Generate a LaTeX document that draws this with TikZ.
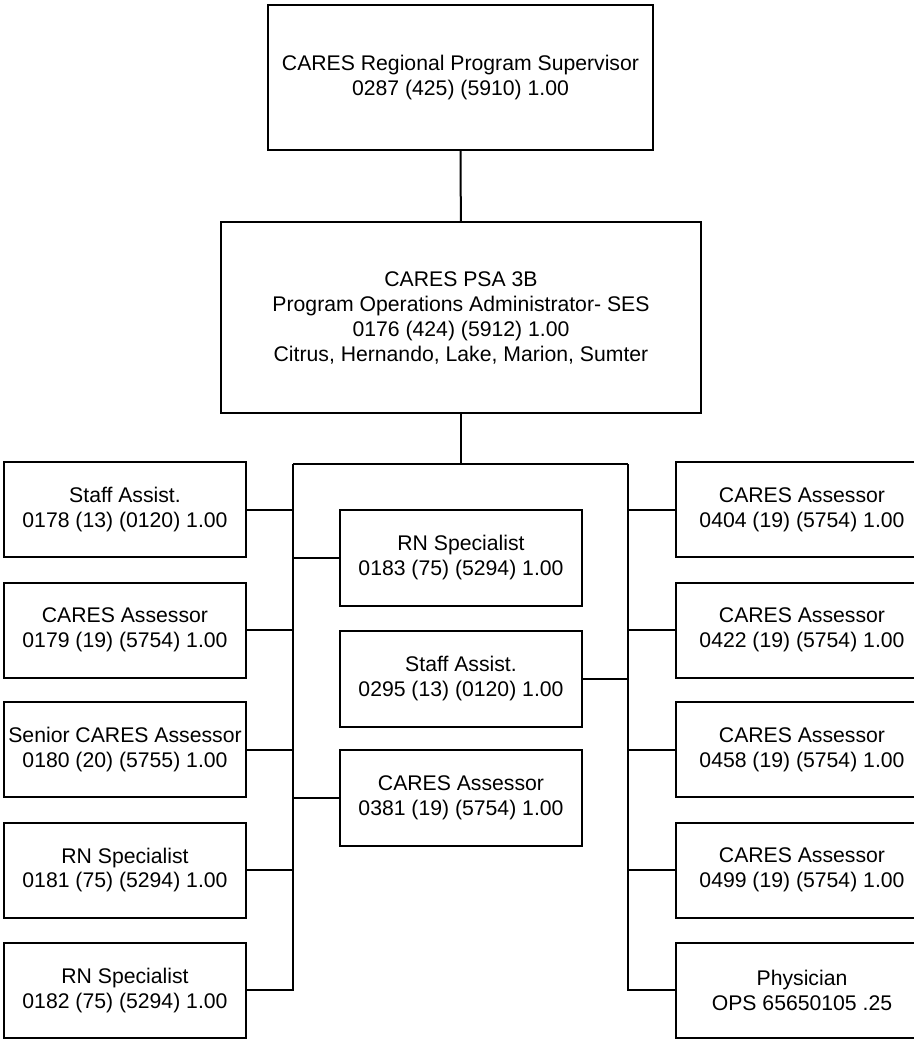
\documentclass[tikz,border=0pt]{standalone}
\usepackage{fontspec}
\setmainfont{Liberation Sans}
\begin{document}
\begin{tikzpicture}[x=0.5pt,y=-0.5pt,
    post/.style={draw,line width=1pt,align=center,inner sep=0pt,
      minimum width=121pt,minimum height=47.5pt,
      font=\fontsize{10.6}{12.5}\selectfont},
    link/.style={line width=1pt}]
  \clip (0,0) rectangle (914,1041);
  % Head of the chart
  \node[post,minimum width=192.5pt,minimum height=72.5pt] (sup) at (460.5,77.5)
    {CARES Regional Program Supervisor\\0287 (425) (5910) 1.00};
  \node[post,minimum width=240pt,minimum height=95.5pt] (psa) at (461,317.5)
    {CARES PSA 3B\\Program Operations Administrator- SES\\0176 (424) (5912) 1.00\\Citrus, Hernando, Lake, Marion, Sumter};
  % Left column
  \node[post] (l1) at (125,509.5) {Staff Assist.\\0178 (13) (0120) 1.00};
  \node[post] (l2) at (125,630) {CARES Assessor\\0179 (19) (5754) 1.00};
  \node[post] (l3) at (125,749.5) {Senior CARES Assessor\\0180 (20) (5755) 1.00};
  \node[post] (l4) at (125,870) {RN Specialist\\0181 (75) (5294) 1.00};
  \node[post] (l5) at (125,990) {RN Specialist\\0182 (75) (5294) 1.00};
  % Middle column
  \node[post,minimum height=48pt] (m1) at (461,558) {RN Specialist\\0183 (75) (5294) 1.00};
  \node[post,minimum height=48pt] (m2) at (461,678.5) {Staff Assist.\\0295 (13) (0120) 1.00};
  \node[post,minimum height=48pt] (m3) at (461,798) {CARES Assessor\\0381 (19) (5754) 1.00};
  % Right column, cut by the page edge
  \node[post,minimum width=126pt] (r1) at (802,509.5) {CARES Assessor\\0404 (19) (5754) 1.00};
  \node[post,minimum width=126pt] (r2) at (802,630) {CARES Assessor\\0422 (19) (5754) 1.00};
  \node[post,minimum width=126pt] (r3) at (802,749.5) {CARES Assessor\\0458 (19) (5754) 1.00};
  \node[post,minimum width=126pt] (r4) at (802,870) {CARES Assessor\\0499 (19) (5754) 1.00};
  \node[post,minimum width=126pt] (r5) at (802,990) {Physician\\OPS 65650105 .25};
  % Bus lines
  \coordinate (bus) at (461,464);
  \coordinate (lbus) at (293,464);
  \coordinate (rbus) at (628,464);
  \draw[link] (sup) -- (psa);
  \draw[link] (psa) -- (bus);
  \draw[link] (lbus) -- (rbus);
  \draw[link] (lbus) |- (l5.east);
  \draw[link] (rbus) |- (r5.west);
  \foreach \n in {l1,l2,l3,l4} \draw[link] (\n.east) -- (\n.east -| lbus);
  \foreach \n in {r1,r2,r3,r4} \draw[link] (\n.west) -- (\n.west -| rbus);
  \draw[link] (m1.west) -- (m1.west -| lbus);
  \draw[link] (m3.west) -- (m3.west -| lbus);
  \draw[link] (m2.east) -- (m2.east -| rbus);
\end{tikzpicture}
\end{document}
